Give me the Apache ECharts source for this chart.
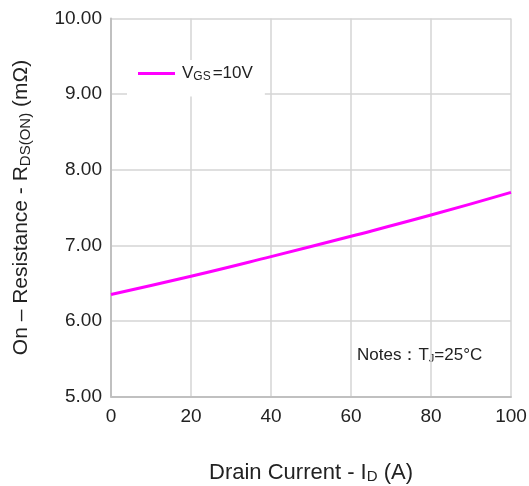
<!DOCTYPE html>
<html>
<head>
<meta charset="utf-8">
<script src="https://cdn.jsdelivr.net/npm/echarts@6/dist/echarts.min.js"></script>
<style>
  html, body { margin: 0; padding: 0; background: #fff; }
  #chart { width: 529px; height: 486px; }
</style>
</head>
<body>
<div id="chart"></div>
<script>
// drain current (A) and on-resistance (mOhm)
var current = [0, 20, 40, 60, 80, 100];
var rdsOn = [6.35, 6.59, 6.85, 7.12, 7.40, 7.70];

var font = '"Liberation Sans", Arial, sans-serif';
var gridColor = '#d4d4d4';

var chart = echarts.init(document.getElementById('chart'));
chart.setOption({
    animation: false,
    grid: { left: 111, right: 18, top: 18.5, bottom: 89.5, outerBoundsMode: 'none' },
    legend: {
        left: 127, top: 60,
        padding: [5, 12, 14, 11],
        backgroundColor: '#fff',
        itemWidth: 37, itemHeight: 3,
        icon: 'rect',
        data: ['vgs'],
        formatter: function () { return '{a|V}{s|GS}{a|=10V}'; },
        textStyle: {
            fontFamily: font,
            rich: {
                a: { fontSize: 17, color: '#222', fontFamily: font, padding: [0, 0, 0, 2] },
                s: { fontSize: 12, color: '#222', fontFamily: font, padding: [6, 0, 0, 0] }
            }
        }
    },
    xAxis: {
        type: 'value', min: 0, max: 100, interval: 20,
        name: '{a|Drain Current - I}{s|D}{a| (A)}',
        nameLocation: 'middle', nameGap: 64,
        nameTextStyle: {
            rich: {
                a: { fontSize: 22, color: '#222', fontFamily: font },
                s: { fontSize: 15, color: '#222', fontFamily: font, padding: [9, 0, 0, 0] }
            }
        },
        axisLine: { show: true, lineStyle: { color: '#c0c0c0', width: 2 } },
        axisTick: { show: false },
        axisLabel: { fontSize: 19, color: '#222', fontFamily: font, margin: 11 },
        splitLine: { show: true, lineStyle: { color: gridColor, width: 1.5 } }
    },
    yAxis: {
        type: 'value', min: 5, max: 10, interval: 1,
        name: '{a|On – Resistance - R}{s|DS(ON)}{a| (mΩ)}',
        nameLocation: 'middle', nameGap: 78, nameRotate: 90,
        nameTextStyle: {
            rich: {
                a: { fontSize: 21, color: '#222', fontFamily: font },
                s: { fontSize: 15, color: '#222', fontFamily: font, padding: [9, 0, 0, 0] }
            }
        },
        axisLine: { show: true, lineStyle: { color: '#c0c0c0', width: 2 } },
        axisTick: { show: false },
        axisLabel: {
            fontSize: 19, color: '#222', fontFamily: font, margin: 9,
            formatter: function (v) { return v.toFixed(2); }
        },
        splitLine: { show: true, lineStyle: { color: gridColor, width: 1.5 } }
    },
    graphic: [{
        type: 'group', left: 345, top: 332,
        children: [
            { type: 'rect', shape: { x: 0, y: 0, width: 158, height: 40 }, style: { fill: '#fff' } },
            {
                type: 'text', x: 12, y: 14,
                style: {
                    text: '{a|Notes：T}{s|J}{a|=25°C}',
                    rich: {
                        a: { fontSize: 17, fill: '#222', fontFamily: font },
                        s: { fontSize: 11, fill: '#222', fontFamily: font, padding: [7, 0, 0, 0] }
                    }
                }
            }
        ]
    }],
    series: [{
        name: 'vgs',
        type: 'line',
        smooth: true,
        symbol: 'none',
        data: current.map(function (x, i) { return [x, rdsOn[i]]; }),
        lineStyle: { color: '#ff00ff', width: 3 },
        itemStyle: { color: '#ff00ff' }
    }]
});
</script>
</body>
</html>
